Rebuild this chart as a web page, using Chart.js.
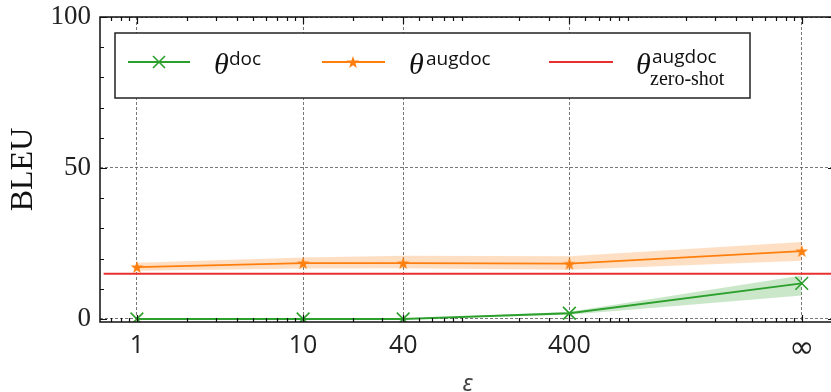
<!DOCTYPE html>
<html>
<head>
<meta charset="utf-8">
<script src="https://cdn.jsdelivr.net/npm/chart.js@4/dist/chart.umd.min.js"></script>
<style>
  html, body { margin: 0; padding: 0; background: #fff; overflow: hidden; }
  #wrap { width: 840px; height: 392px; }
</style>
</head>
<body>
<div id="wrap"><canvas id="bleuChart" width="840" height="392"></canvas></div>
<script>
// epsilon values (∞ is drawn at 1e4 on the log axis)
const epsLabels = ["1", "10", "40", "400", "\u221E"];
const epsValues = [1, 10, 40, 400, 10000];

// BLEU, θ^doc
const docBleu = [0, 0, 0, 1.9, 11.8];
const docLow = [0, 0, 0, 1.4, 7.8];
const docHigh = [0, 0, 0, 2.4, 14.4];

// BLEU, θ^augdoc
const augBleu = [17.2, 18.5, 18.5, 18.3, 22.5];
const augLow = [16.0, 16.7, 16.8, 16.3, 19.3];
const augHigh = [18.6, 20.4, 20.9, 20.8, 25.5];

// BLEU, θ^augdoc zero-shot
const zeroShotBleu = 15;

const yTickValues = [0, 50, 100];
const yMinorStep = 10;

const xMin = Math.pow(10, -0.2);
const xMax = Math.pow(10, 4.2);
const yMin = -1;
const yMax = 100;

const color = {
  Green: "#2ca02c",
  Orange: "#ff7f0e",
  Red: "#e8312f",
  GreenBand: "rgba(44,160,44,0.25)",
  OrangeBand: "rgba(255,127,14,0.25)",
};

function toPoints(values) {
  return values.map((v, i) => ({ x: epsValues[i], y: v }));
}

function starPath(ctx, cx, cy, R, r) {
  ctx.beginPath();
  for (let i = 0; i < 10; i++) {
    const a = -Math.PI / 2 + (i * Math.PI) / 5;
    const rad = i % 2 ? r : R;
    ctx.lineTo(cx + rad * Math.cos(a), cy + rad * Math.sin(a));
  }
  ctx.closePath();
}

const starImg = document.createElement("canvas");
starImg.width = 16;
starImg.height = 16;
(function () {
  const c = starImg.getContext("2d");
  starPath(c, 8, 8.6, 6.6, 2.6);
  c.fillStyle = color.Orange;
  c.fill();
})();

function drawCross(ctx, x, y, h) {
  ctx.beginPath();
  ctx.moveTo(x - h, y - h);
  ctx.lineTo(x + h, y + h);
  ctx.moveTo(x - h, y + h);
  ctx.lineTo(x + h, y - h);
  ctx.stroke();
}

// inward ticks on all four sides, the frame and the legend
const frameTicks = {
  id: "frameTicks",
  afterDatasetsDraw(chart) {
    const { ctx, chartArea: a, scales } = chart;
    const xs = scales.x, ys = scales.y;
    ctx.save();
    ctx.strokeStyle = "#111";
    ctx.lineWidth = 1.2;
    ctx.beginPath();
    // x major
    epsValues.forEach((v) => {
      const px = Math.round(xs.getPixelForValue(v)) + 0.5;
      ctx.moveTo(px, a.bottom); ctx.lineTo(px, a.bottom - 7);
      ctx.moveTo(px, a.top); ctx.lineTo(px, a.top + 7);
    });
    // x minor (log)
    for (let k = -1; k <= 4; k++) {
      for (let m = 2; m <= 9; m++) {
        const v = m * Math.pow(10, k);
        if (v < xMin || v > xMax) continue;
        const px = Math.round(xs.getPixelForValue(v)) + 0.5;
        ctx.moveTo(px, a.bottom); ctx.lineTo(px, a.bottom - 4);
        ctx.moveTo(px, a.top); ctx.lineTo(px, a.top + 4);
      }
    }
    // y major + minor
    for (let v = 0; v <= yMax; v += yMinorStep) {
      const py = Math.round(ys.getPixelForValue(v)) + 0.5;
      const len = yTickValues.includes(v) ? 7 : 4;
      ctx.moveTo(a.left, py); ctx.lineTo(a.left + len, py);
      ctx.moveTo(a.right, py); ctx.lineTo(a.right - len, py);
    }
    ctx.stroke();
    ctx.lineWidth = 1.5;
    ctx.strokeRect(a.left, a.top, a.right - a.left, a.bottom - a.top);
    ctx.restore();
  },
  afterDraw(chart) {
    const { ctx, chartArea: a } = chart;
    const L = a.left + 15, T = a.top + 16, R = 750, B = 98;
    const ly = 62;
    ctx.save();
    ctx.fillStyle = "#fff";
    ctx.fillRect(L, T, R - L, B - T);
    ctx.strokeStyle = "#222";
    ctx.lineWidth = 1.5;
    ctx.strokeRect(L, T, R - L, B - T);

    ctx.lineWidth = 2;
    // θ^doc
    ctx.strokeStyle = color.Green;
    ctx.beginPath(); ctx.moveTo(128, ly); ctx.lineTo(190, ly); ctx.stroke();
    ctx.lineWidth = 1.6;
    drawCross(ctx, 159, ly, 6);
    // θ^augdoc
    ctx.lineWidth = 2;
    ctx.strokeStyle = color.Orange;
    ctx.beginPath(); ctx.moveTo(322, ly); ctx.lineTo(385, ly); ctx.stroke();
    ctx.drawImage(starImg, 353 - 8, ly - 8);
    // θ^augdoc zero-shot
    ctx.strokeStyle = color.Red;
    ctx.beginPath(); ctx.moveTo(549, ly); ctx.lineTo(613, ly); ctx.stroke();

    ctx.fillStyle = "#111";
    ctx.textBaseline = "alphabetic";
    ctx.textAlign = "left";
    const theta = 'italic 30px "Liberation Serif"';
    const sup = '19px "Open Sans"';
    ctx.font = theta; ctx.fillText("\u03B8", 214, 74);
    ctx.font = sup; ctx.fillText("doc", 229, 65);
    ctx.font = theta; ctx.fillText("\u03B8", 409, 74);
    ctx.font = sup; ctx.fillText("augdoc", 426, 65);
    ctx.font = theta; ctx.fillText("\u03B8", 636, 74);
    ctx.font = sup; ctx.fillText("augdoc", 652, 63);
    ctx.font = '20px "Liberation Serif"'; ctx.fillText("zero-shot", 650, 85);
    ctx.restore();
  },
};

const bandLine = { borderWidth: 0, pointRadius: 0, pointHoverRadius: 0, tension: 0 };

const bleuData = {
  datasets: [
    { ...bandLine, label: "augHigh", data: toPoints(augHigh), fill: "+1", backgroundColor: color.OrangeBand, order: 5 },
    { ...bandLine, label: "augLow", data: toPoints(augLow), fill: false, order: 5 },
    { ...bandLine, label: "docHigh", data: toPoints(docHigh), fill: "+1", backgroundColor: color.GreenBand, order: 5 },
    { ...bandLine, label: "docLow", data: toPoints(docLow), fill: false, order: 5 },
    {
      label: "augdoc zero-shot",
      data: [{ x: xMin, y: zeroShotBleu }, { x: xMax, y: zeroShotBleu }],
      borderColor: color.Red, borderWidth: 2, pointRadius: 0, fill: false, order: 3,
    },
    {
      label: "augdoc",
      data: toPoints(augBleu),
      borderColor: color.Orange, backgroundColor: color.Orange, borderWidth: 1.8,
      pointStyle: starImg, pointRadius: 7, fill: false, order: 2,
    },
    {
      label: "doc",
      data: toPoints(docBleu),
      borderColor: color.Green, backgroundColor: color.Green, borderWidth: 1.8,
      pointStyle: "crossRot", pointRadius: 9, pointBorderWidth: 1.6, fill: false, order: 1,
    },
  ],
};

const bleuConfig = {
  type: "line",
  data: bleuData,
  options: {
    responsive: false,
    animation: false,
    devicePixelRatio: 1,
    layout: { autoPadding: false, padding: { left: 0, top: 17, right: 5, bottom: 0 } },
    plugins: { legend: { display: false }, tooltip: { enabled: false } },
    scales: {
      x: {
        type: "logarithmic",
        min: xMin,
        max: xMax,
        afterBuildTicks: (s) => { s.ticks = epsValues.map((v) => ({ value: v })); },
        afterFit: (s) => { s.height = 70; s.paddingLeft = 0; s.paddingRight = 0; },
        ticks: {
          autoSkip: false,
          maxRotation: 0,
          padding: 9,
          color: "#222",
          font: (c) => (c.index === epsValues.length - 1
            ? { family: "DejaVu Sans", size: 30 }
            : { family: "Open Sans", size: 25 }),
          callback: (v) => { const i = epsValues.indexOf(v); return i >= 0 ? epsLabels[i] : ""; },
        },
        grid: { color: "#555", lineWidth: 0.8, drawTicks: false },
        border: { display: false, dash: [3, 2] },
        title: {
          display: true, text: "\u03B5", color: "#444",
          font: { family: "Noto Sans", style: "italic", size: 24, lineHeight: 1 },
          padding: { top: 0, bottom: -4 },
        },
      },
      y: {
        min: yMin,
        max: yMax,
        afterBuildTicks: (s) => { s.ticks = yTickValues.map((v) => ({ value: v })); },
        afterFit: (s) => { s.width = 100; s.paddingTop = 0; s.paddingBottom = 0; },
        ticks: {
          padding: 9,
          color: "#222",
          font: { family: "Liberation Serif", size: 27 },
        },
        grid: { color: "#555", lineWidth: 0.8, drawTicks: false },
        border: { display: false, dash: [3, 2] },
        title: {
          display: true, text: "BLEU", color: "#111",
          font: { family: "Liberation Serif", size: 32, lineHeight: 1.2 },
          padding: { top: 4, bottom: 0 },
        },
      },
    },
  },
  plugins: [frameTicks],
};

const bleuChart = new Chart(document.getElementById("bleuChart"), bleuConfig);
</script>
</body>
</html>
